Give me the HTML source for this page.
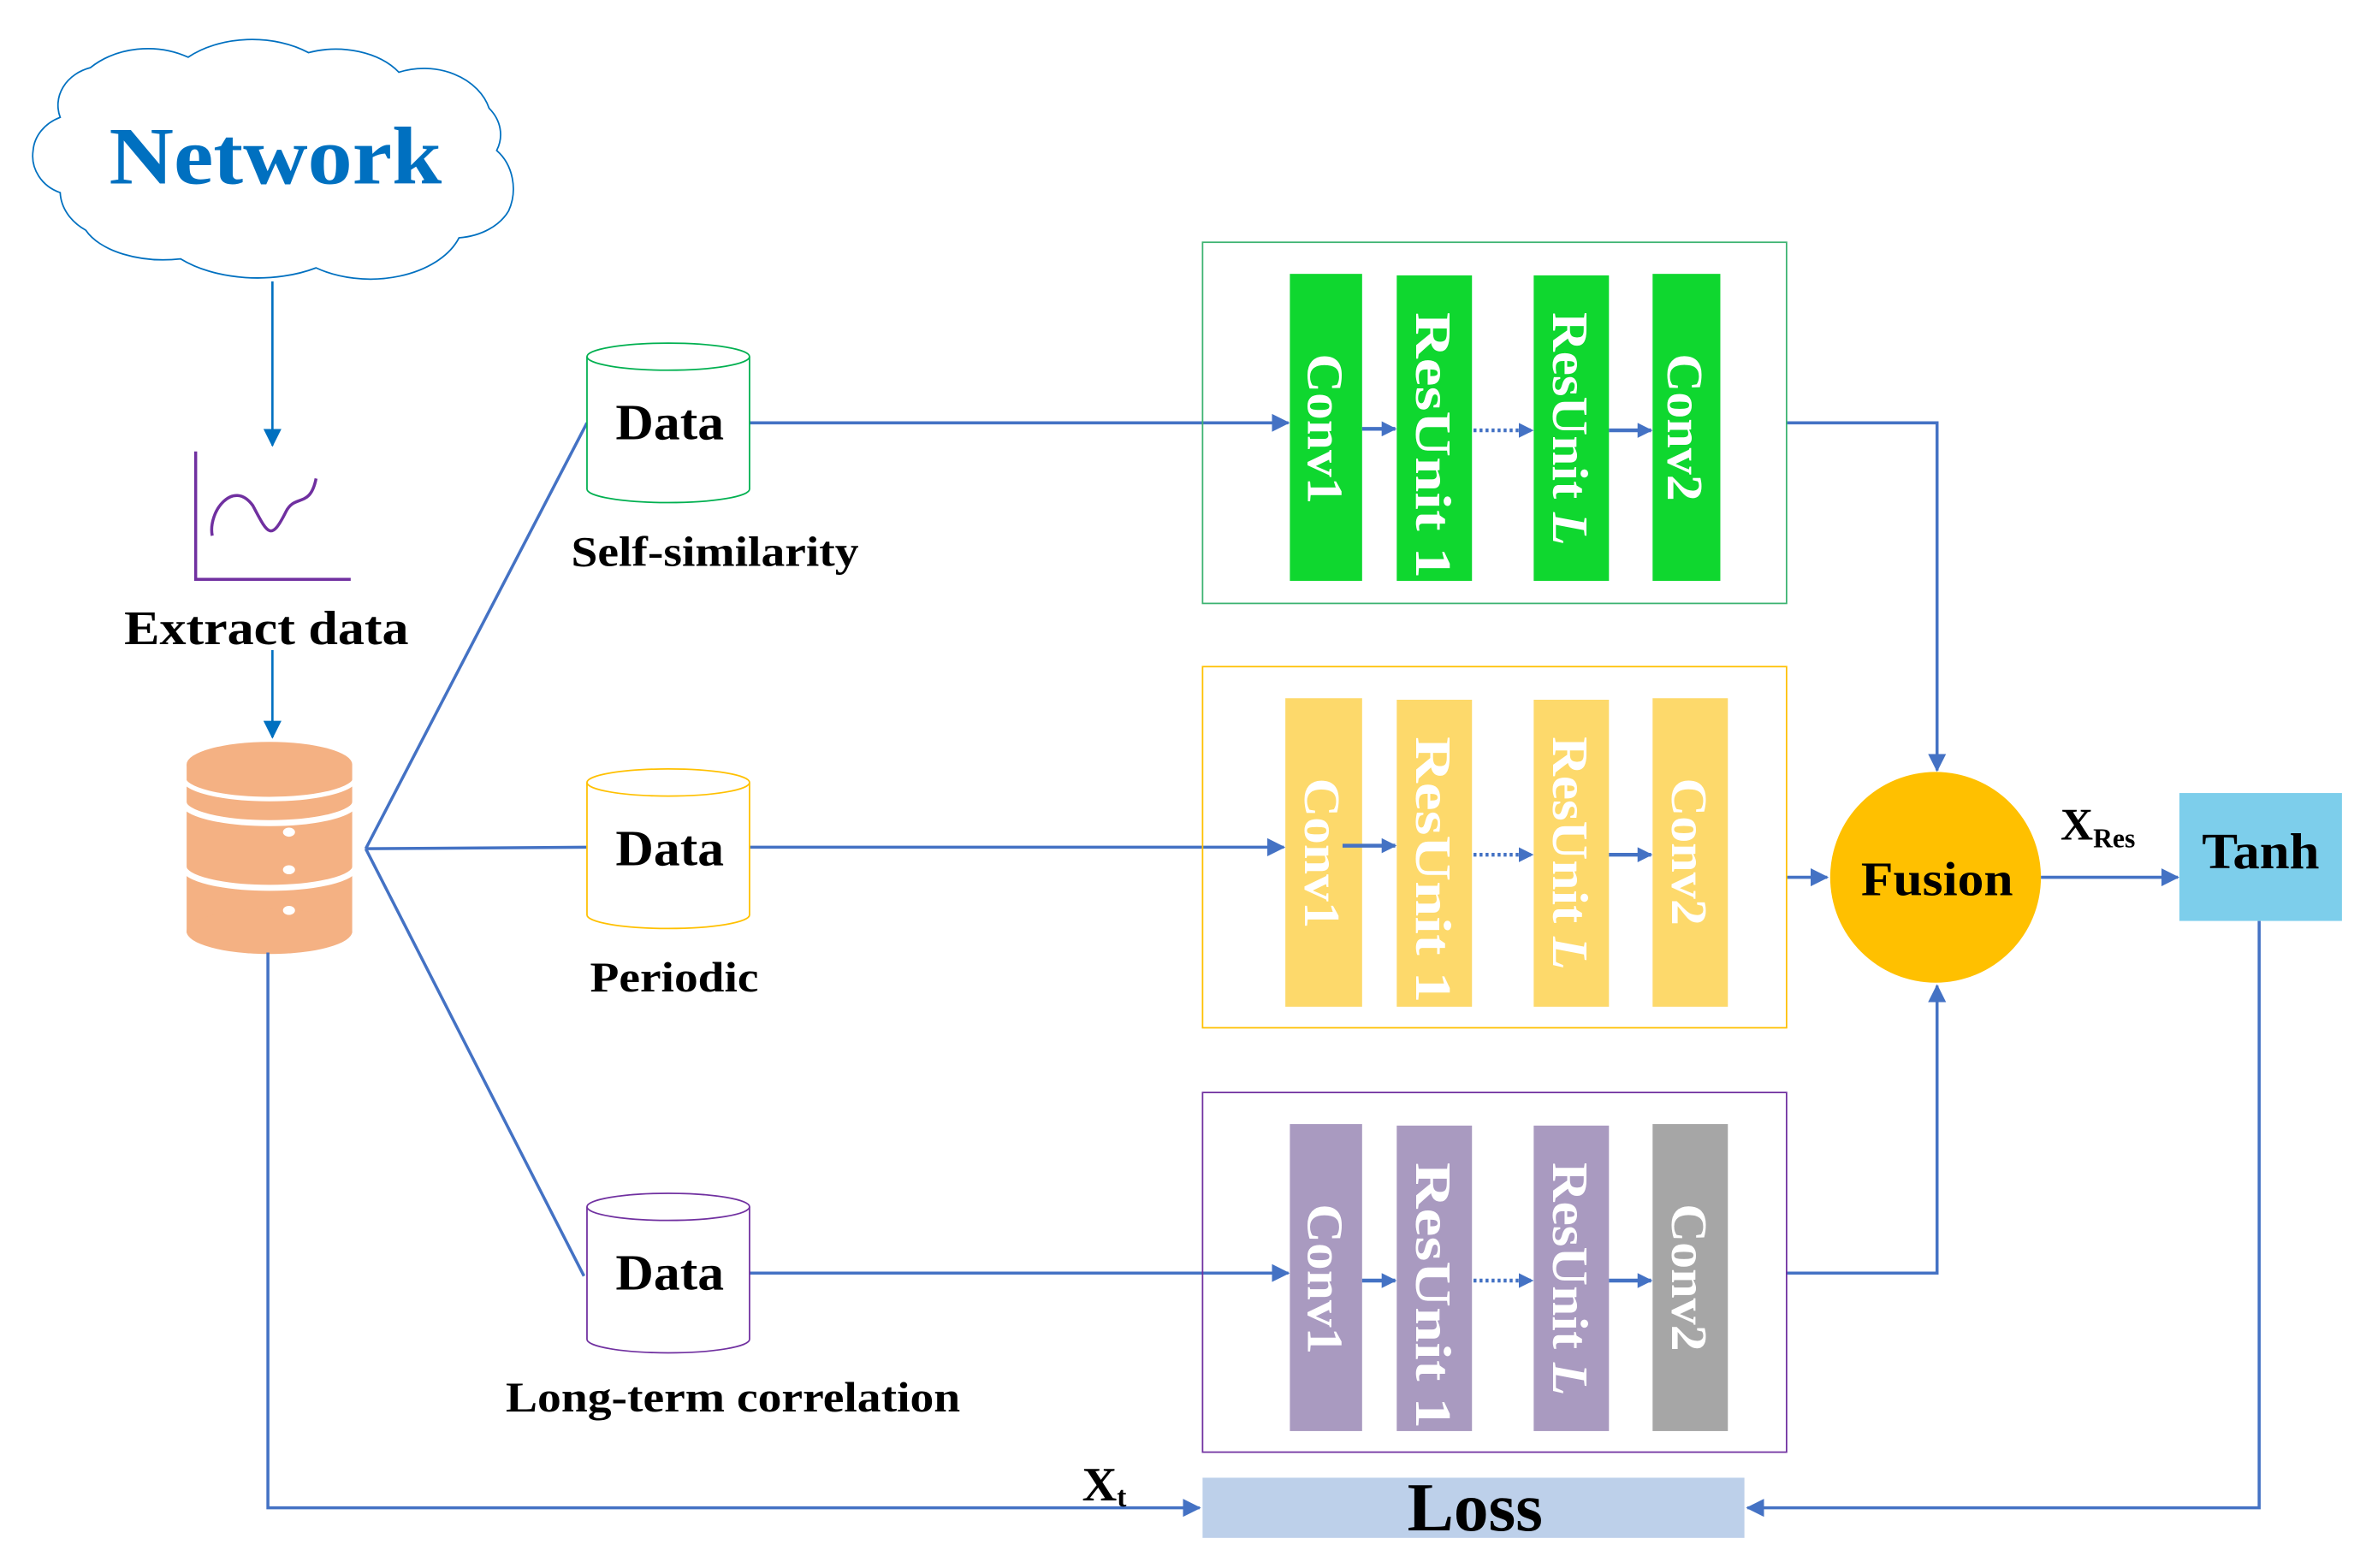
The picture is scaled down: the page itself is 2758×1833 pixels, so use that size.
<!DOCTYPE html>
<html><head><meta charset="utf-8"><style>
html,body{margin:0;padding:0;background:#fff;}
svg{display:block;}
text{font-family:"Liberation Serif",serif;font-weight:bold;}
</style></head><body>
<svg width="2758" height="1833" viewBox="0 0 1568 1042" preserveAspectRatio="none" xmlns="http://www.w3.org/2000/svg">
<defs>
<marker id="a" markerWidth="10" markerHeight="10" refX="9" refY="5" orient="auto" markerUnits="userSpaceOnUse"><path d="M0,0 L10,5 L0,10 Z" fill="#4472C4"/></marker>
<marker id="b" markerWidth="12" markerHeight="12" refX="11" refY="6" orient="auto" markerUnits="userSpaceOnUse"><path d="M0,0 L12,6 L0,12 Z" fill="#4472C4"/></marker>
<marker id="c" markerWidth="12" markerHeight="12" refX="11" refY="6" orient="auto" markerUnits="userSpaceOnUse"><path d="M0,0 L12,6 L0,12 Z" fill="#0070C0"/></marker>
</defs>
<!-- cloud -->
<path d="M40,78 A30,26 0 0 1 60,45 A55,45 0 0 1 125,38 A60,40 0 0 1 205,35 A50,34 0 0 1 265,48 A45,36 0 0 1 325,72 A35,28 0 0 1 330,100 A28,32 0 0 1 338,140 A40,30 0 0 1 305,158 A62,40 0 0 1 210,178 A70,40 0 0 1 120,172 A55,30 0 0 1 57,153 A40,32 0 0 1 40,128 A28,26 0 0 1 22,100 A30,26 0 0 1 40,78 Z" fill="#fff" stroke="#0070C0" stroke-width="1"/>
<text x="183" y="122" font-size="54" fill="#0070C0" text-anchor="middle" textLength="221" lengthAdjust="spacingAndGlyphs">Network</text>
<line x1="181" y1="187" x2="181" y2="296" stroke="#0070C0" stroke-width="1.5" marker-end="url(#c)"/>
<!-- chart -->
<path d="M130,300 L130,385 L233,385" fill="none" stroke="#7030A0" stroke-width="2"/>
<path d="M141,356 C138,340 155,318 168,336 C178,355 180,360 190,340 C196,328 206,338 210,318" fill="none" stroke="#7030A0" stroke-width="2"/>
<text x="177" y="428" font-size="32" text-anchor="middle" textLength="189" lengthAdjust="spacingAndGlyphs">Extract data</text>
<line x1="181" y1="432" x2="181" y2="490" stroke="#0070C0" stroke-width="1.5" marker-end="url(#c)"/>
<!-- db -->
<ellipse cx="179" cy="508" rx="55" ry="15" fill="#F4B183"/>
<rect x="124" y="508" width="110" height="112" fill="#F4B183"/>
<ellipse cx="179" cy="619" rx="55" ry="15" fill="#F4B183"/>
<path d="M122,533 A57,14 0 0 0 236,533" fill="none" stroke="#fff" stroke-width="4"/>
<path d="M122,576 A57,14 0 0 0 236,576" fill="none" stroke="#fff" stroke-width="4"/>
<path d="M122,517 A57,14 0 0 0 236,517" fill="none" stroke="#fff" stroke-width="3"/>
<ellipse cx="192" cy="553" rx="4" ry="3" fill="#fff"/>
<ellipse cx="192" cy="578" rx="4" ry="3" fill="#fff"/>
<ellipse cx="192" cy="605" rx="4" ry="3" fill="#fff"/>
<!-- fan -->
<g stroke="#4472C4" stroke-width="2" fill="none">
<line x1="243" y1="564" x2="390" y2="281"/>
<line x1="243" y1="564" x2="390" y2="563"/>
<line x1="243" y1="564" x2="388" y2="848"/>
<path d="M178,633 L178,1002 L797,1002" marker-end="url(#b)"/>
<path d="M1501,612 L1501,1002 L1161,1002" marker-end="url(#b)"/>
<path d="M1187,281 L1287,281 L1287,512" marker-end="url(#b)"/>
<path d="M1187,846 L1287,846 L1287,655" marker-end="url(#b)"/>
<line x1="1187" y1="583" x2="1214" y2="583" marker-end="url(#b)"/>
<line x1="1356" y1="583" x2="1447" y2="583" marker-end="url(#b)"/>
<line x1="498" y1="281" x2="856" y2="281" marker-end="url(#b)"/>
<line x1="498" y1="563" x2="853" y2="563" marker-end="url(#b)"/>
<line x1="498" y1="846" x2="856" y2="846" marker-end="url(#b)"/>
</g>
<!-- cylinders -->
<g fill="#fff" stroke-width="1">
<path d="M390,237 L390,325 A54,9 0 0 0 498,325 L498,237" stroke="#00B050"/>
<ellipse cx="444" cy="237" rx="54" ry="9" stroke="#00B050"/>
<path d="M390,520 L390,608 A54,9 0 0 0 498,608 L498,520" stroke="#FFC000"/>
<ellipse cx="444" cy="520" rx="54" ry="9" stroke="#FFC000"/>
<path d="M390,802 L390,890 A54,9 0 0 0 498,890 L498,802" stroke="#7030A0"/>
<ellipse cx="444" cy="802" rx="54" ry="9" stroke="#7030A0"/>
</g>
<text x="445" y="292" font-size="34" text-anchor="middle" textLength="72" lengthAdjust="spacingAndGlyphs">Data</text>
<text x="445" y="575" font-size="34" text-anchor="middle" textLength="72" lengthAdjust="spacingAndGlyphs">Data</text>
<text x="445" y="857" font-size="34" text-anchor="middle" textLength="72" lengthAdjust="spacingAndGlyphs">Data</text>
<text x="475" y="376" font-size="28" text-anchor="middle" textLength="191" lengthAdjust="spacingAndGlyphs">Self-similarity</text>
<text x="448" y="659" font-size="28" text-anchor="middle" textLength="112" lengthAdjust="spacingAndGlyphs">Periodic</text>
<text x="487" y="938" font-size="28" text-anchor="middle" textLength="302" lengthAdjust="spacingAndGlyphs">Long-term correlation</text>
<!-- boxes -->
<rect x="799" y="161" width="388" height="240" fill="none" stroke="#3CB371" stroke-width="1"/>
<rect x="799" y="443" width="388" height="240" fill="none" stroke="#FFC000" stroke-width="1"/>
<rect x="799" y="726" width="388" height="239" fill="none" stroke="#7030A0" stroke-width="1"/>
<!-- bars -->
<g>
<rect x="857" y="182" width="48" height="204" fill="#0FD72F"/>
<rect x="928" y="183" width="50" height="203" fill="#0FD72F"/>
<rect x="1019" y="183" width="50" height="203" fill="#0FD72F"/>
<rect x="1098" y="182" width="45" height="204" fill="#0FD72F"/>
<rect x="854" y="464" width="51" height="205" fill="#FDD96B"/>
<rect x="928" y="465" width="50" height="204" fill="#FDD96B"/>
<rect x="1019" y="465" width="50" height="204" fill="#FDD96B"/>
<rect x="1098" y="464" width="50" height="205" fill="#FDD96B"/>
<rect x="857" y="747" width="48" height="204" fill="#A99AC0"/>
<rect x="928" y="748" width="50" height="203" fill="#A99AC0"/>
<rect x="1019" y="748" width="50" height="203" fill="#A99AC0"/>
<rect x="1098" y="747" width="50" height="204" fill="#A6A6A6"/>
</g>
<g fill="#fff" font-size="34" text-anchor="middle" lengthAdjust="spacingAndGlyphs">
<text transform="translate(869,285) rotate(90)" textLength="100" lengthAdjust="spacingAndGlyphs">Conv1</text>
<text transform="translate(941,296) rotate(90)" textLength="177" lengthAdjust="spacingAndGlyphs">ResUnit 1</text>
<text transform="translate(1032,285) rotate(90)" textLength="155" lengthAdjust="spacingAndGlyphs">ResUnit <tspan font-style="italic">L</tspan></text>
<text transform="translate(1108,284) rotate(90)" textLength="98" lengthAdjust="spacingAndGlyphs">Conv2</text>
<text transform="translate(867,567) rotate(90)" textLength="100" lengthAdjust="spacingAndGlyphs">Conv1</text>
<text transform="translate(941,578) rotate(90)" textLength="177" lengthAdjust="spacingAndGlyphs">ResUnit 1</text>
<text transform="translate(1032,567) rotate(90)" textLength="155" lengthAdjust="spacingAndGlyphs">ResUnit <tspan font-style="italic">L</tspan></text>
<text transform="translate(1111,566) rotate(90)" textLength="98" lengthAdjust="spacingAndGlyphs">Conv2</text>
<text transform="translate(869,850) rotate(90)" textLength="100" lengthAdjust="spacingAndGlyphs">Conv1</text>
<text transform="translate(941,861) rotate(90)" textLength="177" lengthAdjust="spacingAndGlyphs">ResUnit 1</text>
<text transform="translate(1032,850) rotate(90)" textLength="155" lengthAdjust="spacingAndGlyphs">ResUnit <tspan font-style="italic">L</tspan></text>
<text transform="translate(1111,849) rotate(90)" textLength="98" lengthAdjust="spacingAndGlyphs">Conv2</text>
</g>
<!-- small arrows -->
<g stroke="#4472C4" stroke-width="2.5" fill="none">
<line x1="905" y1="285" x2="927" y2="285" marker-end="url(#a)"/>
<line x1="979" y1="286" x2="1018" y2="286" stroke-dasharray="2,2" marker-end="url(#a)"/>
<line x1="1069" y1="286" x2="1097" y2="286" marker-end="url(#a)"/>
<line x1="892" y1="562" x2="927" y2="562" marker-end="url(#a)"/>
<line x1="979" y1="568" x2="1018" y2="568" stroke-dasharray="2,2" marker-end="url(#a)"/>
<line x1="1069" y1="568" x2="1097" y2="568" marker-end="url(#a)"/>
<line x1="905" y1="851" x2="927" y2="851" marker-end="url(#a)"/>
<line x1="979" y1="851" x2="1018" y2="851" stroke-dasharray="2,2" marker-end="url(#a)"/>
<line x1="1069" y1="851" x2="1097" y2="851" marker-end="url(#a)"/>
</g>
<!-- fusion -->
<ellipse cx="1286" cy="583" rx="70" ry="70" fill="#FFC000"/>
<text x="1287" y="595" font-size="32" text-anchor="middle" textLength="101" lengthAdjust="spacingAndGlyphs">Fusion</text>
<text x="1369" y="558" font-size="30">X<tspan font-size="18" dy="5">Res</tspan></text>
<rect x="1448" y="527" width="108" height="85" fill="#7DCEEB"/>
<text x="1502" y="577" font-size="34" text-anchor="middle" textLength="78" lengthAdjust="spacingAndGlyphs">Tanh</text>
<rect x="799" y="982" width="360" height="40" fill="#BDD0EA"/>
<text x="980" y="1017" font-size="46" text-anchor="middle" textLength="90" lengthAdjust="spacingAndGlyphs">Loss</text>
<text x="719" y="997" font-size="32">X<tspan font-size="19" dy="4">t</tspan></text>
</svg>
</body></html>
